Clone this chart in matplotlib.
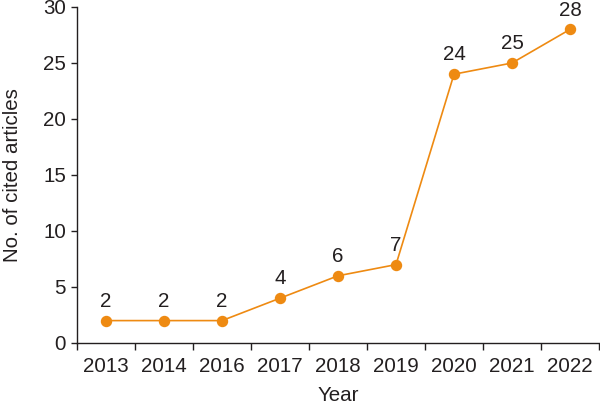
import matplotlib
matplotlib.use("Agg")
import matplotlib.pyplot as plt
import numpy as np

years = ["2013", "2014", "2016", "2017", "2018", "2019", "2020", "2021", "2022"]
counts = [2, 2, 2, 4, 6, 7, 24, 25, 28]
yticks = [0, 5, 10, 15, 20, 25, 30]

plt.rcParams['font.family'] = ['Liberation Sans', 'DejaVu Sans']
txt = '#231F20'
orange = '#EE8A12'
fs = 14.8

fig = plt.figure(figsize=(6.0, 4.04), dpi=100)
ax = fig.add_axes([77/600, 61/404, 522/600, 336/404])

x = np.arange(len(years))
ax.plot(x, counts, color=orange, lw=1.2, marker='o', ms=7.2, mec=orange, mfc=orange, clip_on=False, zorder=3)
for xi, v in zip(x, counts):
    ax.annotate(str(v), (xi, v), xytext=(0, 7), textcoords='offset points',
                ha='center', va='bottom', fontsize=fs, color=txt)

ax.set_xlim(-0.5, len(years) - 0.5)
ax.set_ylim(0, 30)
ax.set_yticks(yticks)
ax.set_xticks(np.arange(len(years) + 1) - 0.5)
ax.set_xticklabels([])
ax.set_xticks(x, minor=True)
ax.set_xticklabels(years, minor=True)
ax.tick_params(axis='x', which='minor', length=0, labelsize=fs, colors=txt, pad=10)
ax.tick_params(axis='x', which='major', length=5, width=1, color=txt)
ax.tick_params(axis='y', length=4, width=1, color=txt, labelsize=fs, labelcolor=txt, pad=4)

for s in ['top', 'right']:
    ax.spines[s].set_visible(False)
for s in ['left', 'bottom']:
    ax.spines[s].set_color(txt)
    ax.spines[s].set_linewidth(1)

ax.set_xlabel('Year', fontsize=fs, color=txt, labelpad=7)
ax.set_ylabel('No. of cited articles', fontsize=fs, color=txt, labelpad=15)

fig.savefig('out.png', dpi=100)
